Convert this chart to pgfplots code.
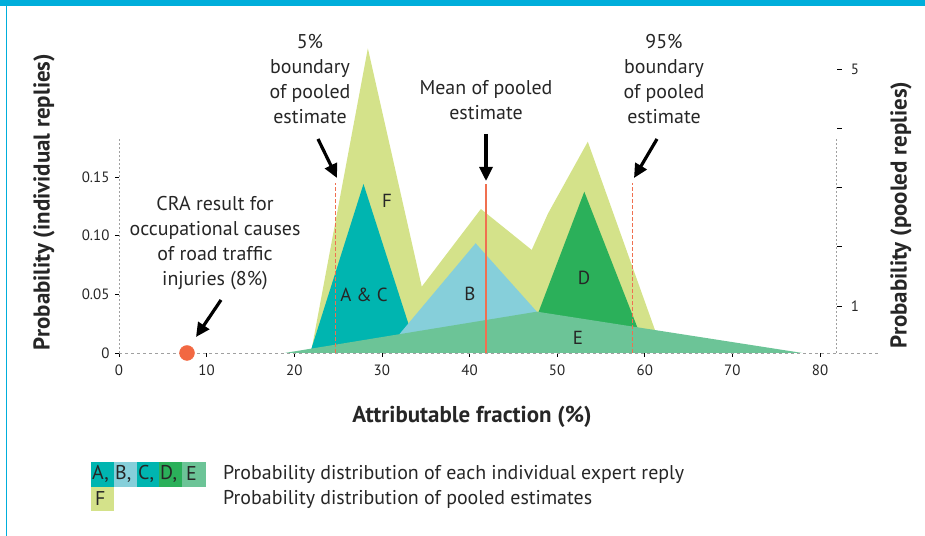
\documentclass[border=0pt]{standalone}
\usepackage{fontspec}
\setmainfont{PT Sans}
\usepackage{pgfplots}
\pgfplotsset{compat=1.18}
\usetikzlibrary{arrows.meta}
\definecolor{cF}{RGB}{212,226,138}
\definecolor{cAC}{RGB}{0,181,176}
\definecolor{cB}{RGB}{134,207,218}
\definecolor{cD}{RGB}{43,176,90}
\definecolor{cE}{RGB}{108,196,151}
\definecolor{cRed}{RGB}{240,112,80}
\definecolor{cDot}{RGB}{242,104,66}
\definecolor{cFrame}{RGB}{0,174,219}
\definecolor{cAxis}{RGB}{160,160,160}
\begin{document}
\begin{tikzpicture}[x=1bp,y=1bp]
\useasboundingbox (0,0) rectangle (925,536);
\fill[cFrame] (0,530) rectangle (925,536);
\draw[cFrame,line width=1.6bp] (6.3,0) -- (6.3,530);
\begin{axis}[
  at={(119bp,183bp)}, anchor=origin, scale only axis,
  width=736.05bp, height=316.9bp,
  xmin=0, xmax=84, ymin=0, ymax=0.27,
  clip=false,
  axis x line*=bottom, axis y line*=left,
  axis line style={draw=none},
  xtick={0,10,...,80},
  ytick={0,0.05,0.1,0.15},
  yticklabels={0,0.05,0.10,0.15},
  tick align=outside,
  major tick length=4bp,
  tick style={black, line width=0.7bp},
  /pgf/number format/assume math mode=true,
  ticklabel style={font=\fontsize{15}{18}\selectfont, text=black!85},
  xticklabel style={yshift=-4bp},
  yticklabel style={xshift=-2bp},
]
% pooled F
\addplot[fill=cF, draw=none, forget plot] coordinates {(21.9,0) (28.4,0.2596) (34.55,0.0565) (41.3,0.1227) (47.1,0.0878) (48.97,0.119) (53.5,0.180) (62.1,0)} -- cycle;
% A & C
\addplot[fill=cAC, draw=none, forget plot] coordinates {(21.8,0) (27.9,0.144) (34.1,0)} -- cycle;
% B
\addplot[fill=cB, draw=none, forget plot] coordinates {(30.2,0) (40.7,0.0935) (51.9,0)} -- cycle;
% D
\addplot[fill=cD, draw=none, forget plot] coordinates {(46.1,0) (53.1,0.1374) (60.3,0)} -- cycle;
% E
\addplot[fill=cE, draw=none, forget plot] coordinates {(18.9,0) (47.7,0.0352) (78.0,0)} -- cycle;
% axis lines (dotted)
\draw[cAxis, line width=0.8bp, dash pattern=on 2bp off 2bp] (axis cs:0,0) -- (axis cs:0,0.1832);
\draw[cAxis, line width=0.8bp, dash pattern=on 2bp off 2bp] (axis cs:81.9,0) -- (axis cs:81.9,0.1832);
\draw[cAxis, line width=0.8bp, dash pattern=on 3bp off 3bp] (axis cs:0,0) -- (axis cs:86.8,0);
% right axis ticks (pooled replies: 1..5)
\draw[black, line width=0.7bp] (axis cs:81.9,0.0400) ++(0.5bp,0) -- ++(4.5bp,0);
\draw[black, line width=0.7bp] (axis cs:81.9,0.0912) ++(0.5bp,0) -- ++(4.5bp,0);
\draw[black, line width=0.7bp] (axis cs:81.9,0.1415) ++(0.5bp,0) -- ++(4.5bp,0);
\draw[black, line width=0.7bp] (axis cs:81.9,0.1917) ++(0.5bp,0) -- ++(4.5bp,0);
\draw[black, line width=0.7bp] (axis cs:81.9,0.2420) ++(0.5bp,0) -- ++(4.5bp,0);
\node[font=\fontsize{15}{18}\selectfont, text=black!85] at (axis cs:84.0,0.0400) {1};
\node[font=\fontsize{15}{18}\selectfont, text=black!85] at (axis cs:84.0,0.2420) {5};
% boundaries
\addplot[draw=cRed, line width=1.4bp, dash pattern=on 3.5bp off 2.5bp, forget plot] coordinates {(24.7,0) (24.7,0.1446)};
\addplot[draw=cRed, line width=1.7bp, forget plot] coordinates {(41.9,0) (41.9,0.144)};
\addplot[draw=cRed, line width=1.4bp, dash pattern=on 3.5bp off 2.5bp, forget plot] coordinates {(58.6,0) (58.6,0.1446)};
% CRA point
\addplot[only marks, mark=*, mark size=7.5bp, color=cDot, forget plot] coordinates {(7.76,0)};
\end{axis}
% labels
\tikzset{lbl/.style={font=\fontsize{20}{25}\selectfont, align=center, text=black!85, inner sep=0pt}}
\node[lbl, anchor=north] at (310,536-34) {5\%\\boundary\\of pooled\\estimate};
\node[lbl, anchor=north] at (486,536-80) {Mean of pooled\\estimate};
\node[lbl, anchor=north] at (664,536-34) {95\%\\boundary\\of pooled\\estimate};
\node[lbl, anchor=north] at (215,536-196) {CRA result for\\occupational causes\\of road traffic\\injuries (8\%)};
% arrows
\tikzset{arr/.style={line width=3.2bp, -{Triangle[length=14bp,width=13bp]}}}
\draw[arr] (318,536-139) -- (337,536-178);
\draw[arr] (486,536-134) -- (486,536-181);
\draw[arr] (657,536-139) -- (634,536-178);
\draw[arr] (221,536-300) -- (196,536-337);
% region labels
\tikzset{rl/.style={font=\fontsize{19}{22}\selectfont, text=black!85, inner sep=0pt}}
\node[rl] at (387,536-201) {F};
\node[rl] at (364,536-295) {A \& C};
\node[rl] at (470,536-294) {B};
\node[rl] at (584,536-278) {D};
\node[rl] at (578,536-338) {E};
% axis titles
\node[font=\fontsize{23}{26}\selectfont\bfseries, rotate=90, text=black!85] at (44,536-202) {Probability (individual replies)};
\node[font=\fontsize{23}{26}\selectfont\bfseries, rotate=90, text=black!85] at (901,536-215) {Probability (pooled replies)};
\node[font=\fontsize{23}{26}\selectfont\bfseries, text=black!85] at (472,536-417) {Attributable fraction (\%)};
% legend
\fill[cAC] (91,536-462) rectangle (114,536-487);
\fill[cB] (114,536-462) rectangle (137,536-487);
\fill[cAC] (137,536-462) rectangle (159,536-487);
\fill[cD] (159,536-462) rectangle (182,536-487);
\fill[cE] (182,536-462) rectangle (206,536-487);
\fill[cF] (91,536-487) rectangle (114,536-511);
\tikzset{lg/.style={font=\fontsize{20}{22}\selectfont, text=black!85, inner sep=0pt, anchor=west}}
\node[lg] at (92,536-474) {A,};
\node[lg] at (115,536-474) {B,};
\node[lg] at (138,536-474) {C,};
\node[lg] at (160,536-474) {D,};
\node[lg] at (186,536-474) {E};
\node[lg] at (95,536-499) {F};
\node[lg] at (223,536-474) {Probability distribution of each individual expert reply};
\node[lg] at (223,536-499) {Probability distribution of pooled estimates};
\end{tikzpicture}
\end{document}
